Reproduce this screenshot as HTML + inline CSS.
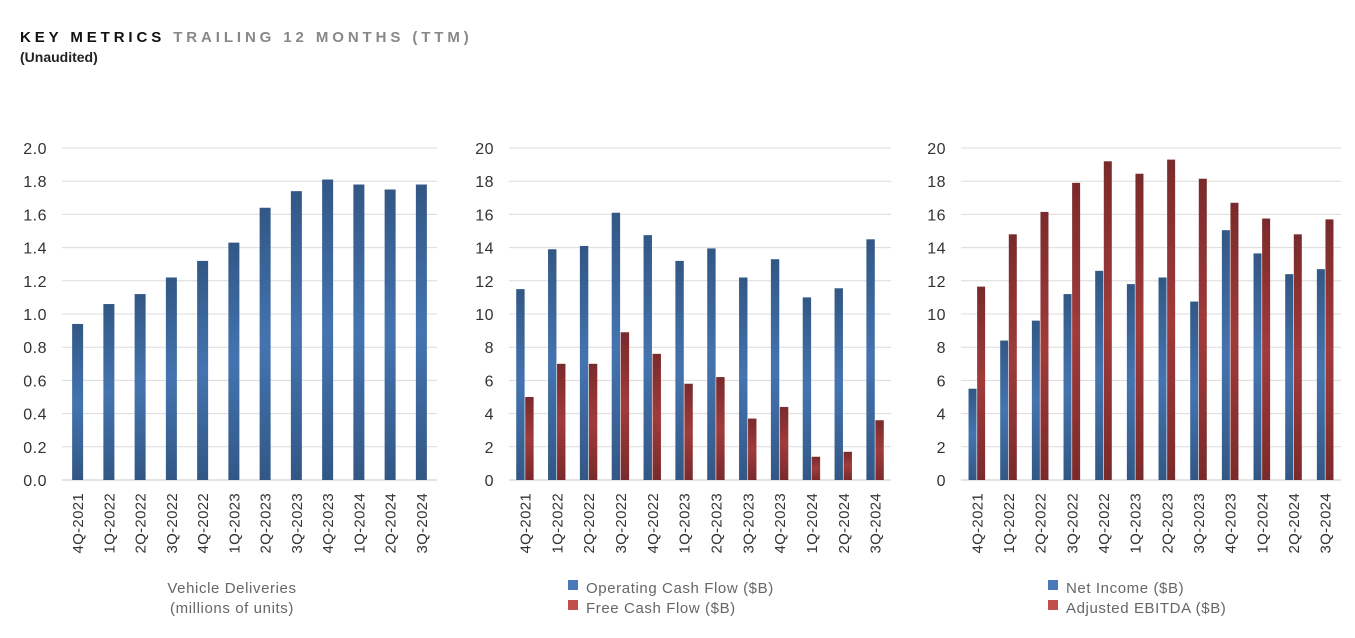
<!DOCTYPE html>
<html><head><meta charset="utf-8"><style>
body{margin:0;background:#fff;width:1355px;height:638px;overflow:hidden;font-family:"Liberation Sans",sans-serif}
svg{position:absolute;left:0;top:0}
</style></head><body>
<svg width="1355" height="638">
<defs>
<linearGradient id="gb" x1="0" y1="0" x2="0" y2="1"><stop offset="0" stop-color="#325785"/><stop offset="0.5" stop-color="#4474b0"/><stop offset="1" stop-color="#325785"/></linearGradient>
<linearGradient id="gr" x1="0" y1="0" x2="0" y2="1"><stop offset="0" stop-color="#7a2a2b"/><stop offset="0.5" stop-color="#a03b3b"/><stop offset="1" stop-color="#7a2a2b"/></linearGradient>
</defs>
<text x="20" y="42" font-size="15" font-weight="bold" letter-spacing="3.9" fill="#111">KEY METRICS <tspan fill="#888">TRAILING 12 MONTHS (TTM)</tspan></text>
<text x="20" y="62" font-size="14" font-weight="bold" fill="#222">(Unaudited)</text>
<g id="charts"></g>
</svg>
<script>
const categories=["4Q-2021","1Q-2022","2Q-2022","3Q-2022","4Q-2022","1Q-2023","2Q-2023","3Q-2023","4Q-2023","1Q-2024","2Q-2024","3Q-2024"];
const deliveries=[0.94,1.06,1.12,1.22,1.32,1.43,1.64,1.74,1.81,1.78,1.75,1.78];
const operatingCashFlow=[11.5,13.9,14.1,16.1,14.75,13.2,13.95,12.2,13.3,11.0,11.55,14.5];
const freeCashFlow=[5.0,7.0,7.0,8.9,7.6,5.8,6.2,3.7,4.4,1.4,1.7,3.6];
const netIncome=[5.5,8.4,9.6,11.2,12.6,11.8,12.2,10.75,15.05,13.65,12.4,12.7];
const adjEbitda=[11.65,14.8,16.15,17.9,19.2,18.45,19.3,18.15,16.7,15.75,14.8,15.7];
const ticks1=["0.0","0.2","0.4","0.6","0.8","1.0","1.2","1.4","1.6","1.8","2.0"];
const ticks2=["0","2","4","6","8","10","12","14","16","18","20"];
const NS="http://www.w3.org/2000/svg";
const root=document.getElementById('charts');
function mk(tag,attrs,parent,txt){const e=document.createElementNS(NS,tag);for(const k in attrs)e.setAttribute(k,attrs[k]);if(txt!==undefined)e.textContent=txt;parent.appendChild(e);return e;}
const Y0=480,Y1=148;
function chart(name,left,right,labelX,ticks,max,series,fills,bw,legend){
  const g=mk('g',{},root);
  
  
  const y=v=>Y0-(v/max)*(Y0-Y1);
  const slot=(right-left)/categories.length;
  const x=i=>left+slot*(i+0.5);
  ticks.forEach((t,i)=>{const v=max*i/(ticks.length-1);
    const l=mk('line',{x1:left,x2:right,y1:y(v),y2:y(v),stroke:i==0?'#c8c8c8':'#dcdcdc','stroke-width':1},g);
    
    
    const tx=mk('text',{x:labelX,y:y(v)+6,'font-size':16,'letter-spacing':0.5,'text-anchor':'end',fill:'#333'},g,t);
    
    
  });
  const n=series.length;
  categories.forEach((c,i)=>{
    series.forEach((s,j)=>{
      const bx=x(i)-n*bw/2+j*bw;
      const r=mk('rect',{x:bx+(n>1?0.3:0),y:y(s[i]),width:bw-(n>1?0.6:0),height:Y0-y(s[i]),fill:fills[j]},g);
      
      
    });
    const t=mk('text',{x:0,y:0,'font-size':15,'letter-spacing':0.3,'text-anchor':'end',fill:'#333',transform:`translate(${x(i)+5.5},493) rotate(-90)`},g,c);
    
    
  });
  legend(g);
}
chart('vehicle-deliveries-chart',62,437,47,ticks1,2.0,[deliveries],['url(#gb)'],11,g=>{
  const a=mk('text',{x:232,y:593,'font-size':15,'letter-spacing':0.6,'text-anchor':'middle',fill:'#666'},g,'Vehicle Deliveries');
  
  const b=mk('text',{x:232,y:613,'font-size':15,'letter-spacing':0.6,'text-anchor':'middle',fill:'#666'},g,'(millions of units)');
  
});
function leg(g,x,labels){
  const cols=['#4a78b8','#c0504d'];
  labels.forEach((l,i)=>{
    const e=mk('g',{},g);
    
    
    mk('rect',{x:x,y:580+i*20,width:10,height:10,fill:cols[i]},e);
    mk('text',{x:x+18,y:593+i*20,'font-size':15,'letter-spacing':0.6,fill:'#666'},e,l);
  });
}
chart('cash-flow-chart',509,891,494,ticks2,20,[operatingCashFlow,freeCashFlow],['url(#gb)','url(#gr)'],9,g=>leg(g,568,['Operating Cash Flow ($B)','Free Cash Flow ($B)']));
chart('income-ebitda-chart',961,1341,946,ticks2,20,[netIncome,adjEbitda],['url(#gb)','url(#gr)'],8.6,g=>leg(g,1048,['Net Income ($B)','Adjusted EBITDA ($B)']));
</script>
</body></html>
